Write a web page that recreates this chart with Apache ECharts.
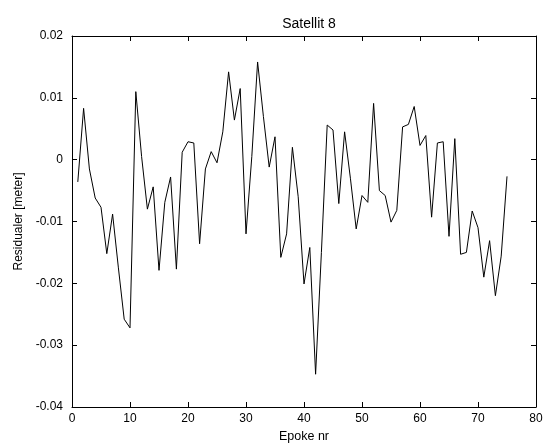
<!DOCTYPE html>
<html>
<head>
<meta charset="utf-8">
<script src="https://cdn.jsdelivr.net/npm/echarts@6/dist/echarts.min.js"></script>
<style>html,body{margin:0;padding:0;background:#fff}#c{width:543px;height:443px}</style>
</head>
<body>
<div id="c"></div>
<script>
const title = 'Satellit 8';
const xLabel = 'Epoke nr';
const yLabel = 'Residualer [meter]';
const epochs = [1,2,3,4,5,6,7,8,9,10,11,12,13,14,15,16,17,18,19,20,21,22,23,24,25,26,27,28,29,30,31,32,33,34,35,36,37,38,39,40,41,42,43,44,45,46,47,48,49,50,51,52,53,54,55,56,57,58,59,60,61,62,63,64,65,66,67,68,69,70,71,72,73,74,75];
const residuals = [-0.0036,0.0083,-0.0015,-0.0062,-0.0077,-0.0152,-0.0088,-0.0175,-0.0258,-0.0272,0.0110,0.0005,-0.0080,-0.0044,-0.0179,-0.0069,-0.0028,-0.0177,0.0012,0.0029,0.0027,-0.0136,-0.0015,0.0013,-0.0005,0.0045,0.0142,0.0064,0.0115,-0.0120,0.0005,0.0158,0.0070,-0.0012,0.0037,-0.0158,-0.0120,0.0020,-0.0060,-0.0201,-0.0142,-0.0347,-0.0150,0.0056,0.0048,-0.0071,0.0045,-0.0030,-0.0112,-0.0058,-0.0069,0.0091,-0.0050,-0.0058,-0.0101,-0.0082,0.0053,0.0057,0.0086,0.0023,0.0039,-0.0093,0.0027,0.0029,-0.0124,0.0034,-0.0153,-0.0150,-0.0083,-0.0110,-0.0190,-0.0131,-0.0220,-0.0156,-0.0027];
const xTicks = {min:0, max:80, interval:10};
const yTicks = {min:-0.04, max:0.02, interval:0.01};

const font = 'Liberation Sans, Arial, sans-serif';
const chart = echarts.init(document.getElementById('c'), null, {renderer:'canvas'});
const axisLine = {show:true, onZero:false, lineStyle:{color:'#000', width:1}};
const tick = {show:true, inside:true, length:5, lineStyle:{color:'#000'}};
function fmtY(v){ const r = Math.round(v*100)/100; return r === 0 ? '0' : String(r); }
chart.setOption({
  animation:false,
  backgroundColor:'#fff',
  title:{text:title, left:304, top:12, textAlign:'center',
    textStyle:{fontFamily:font, fontSize:14, fontWeight:'normal', color:'#000'}},
  grid:{left:72, right:7, top:36, bottom:36, containLabel:false, outerBoundsMode:'none'},
  xAxis:[
    {type:'value', min:xTicks.min, max:xTicks.max, interval:xTicks.interval, position:'bottom',
     name:xLabel, nameLocation:'middle', nameGap:23,
     nameTextStyle:{fontFamily:font, fontSize:12.5, color:'#000'},
     axisLine:axisLine, axisTick:tick, splitLine:{show:false},
     axisLabel:{fontFamily:font, fontSize:12, color:'#000', margin:6}},
    {type:'value', min:xTicks.min, max:xTicks.max, interval:xTicks.interval, position:'top',
     axisLine:axisLine, axisTick:tick, splitLine:{show:false}, axisLabel:{show:false}}
  ],
  yAxis:[
    {type:'value', min:yTicks.min, max:yTicks.max, interval:yTicks.interval, position:'left',
     name:yLabel, nameLocation:'middle', nameGap:46, nameRotate:90,
     nameTextStyle:{fontFamily:font, fontSize:12, color:'#000'},
     axisLine:axisLine, axisTick:tick, splitLine:{show:false},
     axisLabel:{fontFamily:font, fontSize:12, color:'#000', margin:9, formatter:fmtY}},
    {type:'value', min:yTicks.min, max:yTicks.max, interval:yTicks.interval, position:'right',
     axisLine:axisLine, axisTick:tick, splitLine:{show:false}, axisLabel:{show:false}}
  ],
  series:[{type:'line', xAxisIndex:0, yAxisIndex:0, showSymbol:false, symbol:'none',
    lineStyle:{color:'#000', width:1}, data:epochs.map((e,i)=>[e, residuals[i]])}]
});
</script>
</body>
</html>
